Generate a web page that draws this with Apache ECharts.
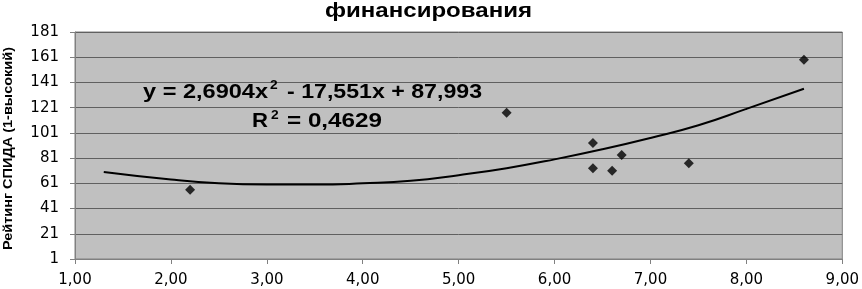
<!DOCTYPE html>
<html><head><meta charset="utf-8">
<script src="https://cdn.jsdelivr.net/npm/echarts@6/dist/echarts.min.js"></script>
<style>html,body{margin:0;padding:0;background:#fff}#c{width:862px;height:289px}</style>
</head><body><div id="c"></div>
<script>
var titleText = 'финансирования';
var yAxisName = 'Рейтинг СПИДА (1-высокий)';
var pointsX = [2.2, 5.5, 6.4, 6.4, 6.6, 6.7, 7.4, 8.6];
var pointsY = [56, 117, 93, 73, 71, 83.5, 77, 159];
var trendX = [1.3, 2, 2.5, 3, 3.5, 4, 4.5, 5, 5.5, 6, 6.5, 7, 7.5, 8, 8.6];
var trendY = [70, 64, 61, 60, 60, 61, 63, 67.5, 73, 80, 88, 97, 107, 120, 136];
var eqLine1 = ['y = 2,6904x', '2', '- 17,551x + 87,993'];
var eqLine2 = ['R', '2', '= 0,4629'];

var boldFam = '"Liberation Sans", Arial, sans-serif';
var tickFam = '"DejaVu Sans", sans-serif';
var ctx = document.createElement('canvas').getContext('2d');
function tw(txt, size) { ctx.font = 'bold ' + size + 'px ' + boldFam; return ctx.measureText(txt).width; }

// text fitted horizontally between x0 and x1, vertically centred on yc
function fitText(txt, size, x0, x1, yc) {
  var sx = (x1 - x0) / tw(txt, size);
  return {type: 'text', x: x0, y: yc, scaleX: sx, z: 100,
    style: {text: txt, font: 'bold ' + size + 'px ' + boldFam, fill: '#000', verticalAlign: 'middle', align: 'left'}};
}
function supText(txt, size, x0, yc) {
  return {type: 'text', x: x0, y: yc, scaleX: 1.15, z: 100,
    style: {text: txt, font: 'bold ' + size + 'px ' + boldFam, fill: '#000', verticalAlign: 'middle', align: 'left'}};
}

var graphics = [
  fitText(titleText, 20, 325, 532, 11),
  {type: 'text', x: 8, y: 148.5, rotation: Math.PI / 2, scaleX: 203 / tw(yAxisName, 13), z: 100,
    style: {text: yAxisName, font: 'bold 13px ' + boldFam, fill: '#000', align: 'center', verticalAlign: 'middle'}},
  fitText(eqLine1[0], 20, 143, 268, 92),
  supText(eqLine1[1], 12, 270, 86),
  fitText(eqLine1[2], 20, 287, 482, 92),
  fitText(eqLine2[0], 20, 252, 268, 121.5),
  supText(eqLine2[1], 12, 271, 115.5),
  fitText(eqLine2[2], 20, 287, 382, 121.5)
];

var chart = echarts.init(document.getElementById('c'));
chart.setOption({
  animation: false,
  backgroundColor: '#fff',
  grid: {left: 75, right: 19, top: 32, bottom: 30, show: true, backgroundColor: '#c0c0c0', borderColor: '#808080', borderWidth: 1},
  xAxis: {type: 'value', min: 1, max: 9, interval: 1,
    axisLine: {show: true, lineStyle: {color: '#808080'}},
    axisTick: {show: true, inside: false, length: 5, lineStyle: {color: '#808080'}},
    splitLine: {show: false},
    axisLabel: {fontFamily: tickFam, fontSize: 15, color: '#000', margin: 14,
      formatter: function(v){return v.toFixed(2).replace('.', ',');}}},
  yAxis: {type: 'value', min: 1, max: 181, interval: 20,
    axisLine: {show: true, lineStyle: {color: '#808080'}},
    axisTick: {show: true, length: 5, lineStyle: {color: '#808080'}},
    splitLine: {show: true, lineStyle: {color: '#606060', width: 1}},
    axisLabel: {fontFamily: tickFam, fontSize: 15, color: '#000', margin: 16}},
  graphic: graphics,
  series: [
    {type: 'line', data: trendX.map(function(x, i){return [x, trendY[i]];}), smooth: true, showSymbol: false,
      lineStyle: {color: '#000', width: 2}, z: 2},
    {type: 'scatter', data: pointsX.map(function(x, i){return [x, pointsY[i]];}), symbol: 'diamond', symbolSize: 10,
      itemStyle: {color: '#000'}, z: 3}
  ]
});
</script></body></html>
